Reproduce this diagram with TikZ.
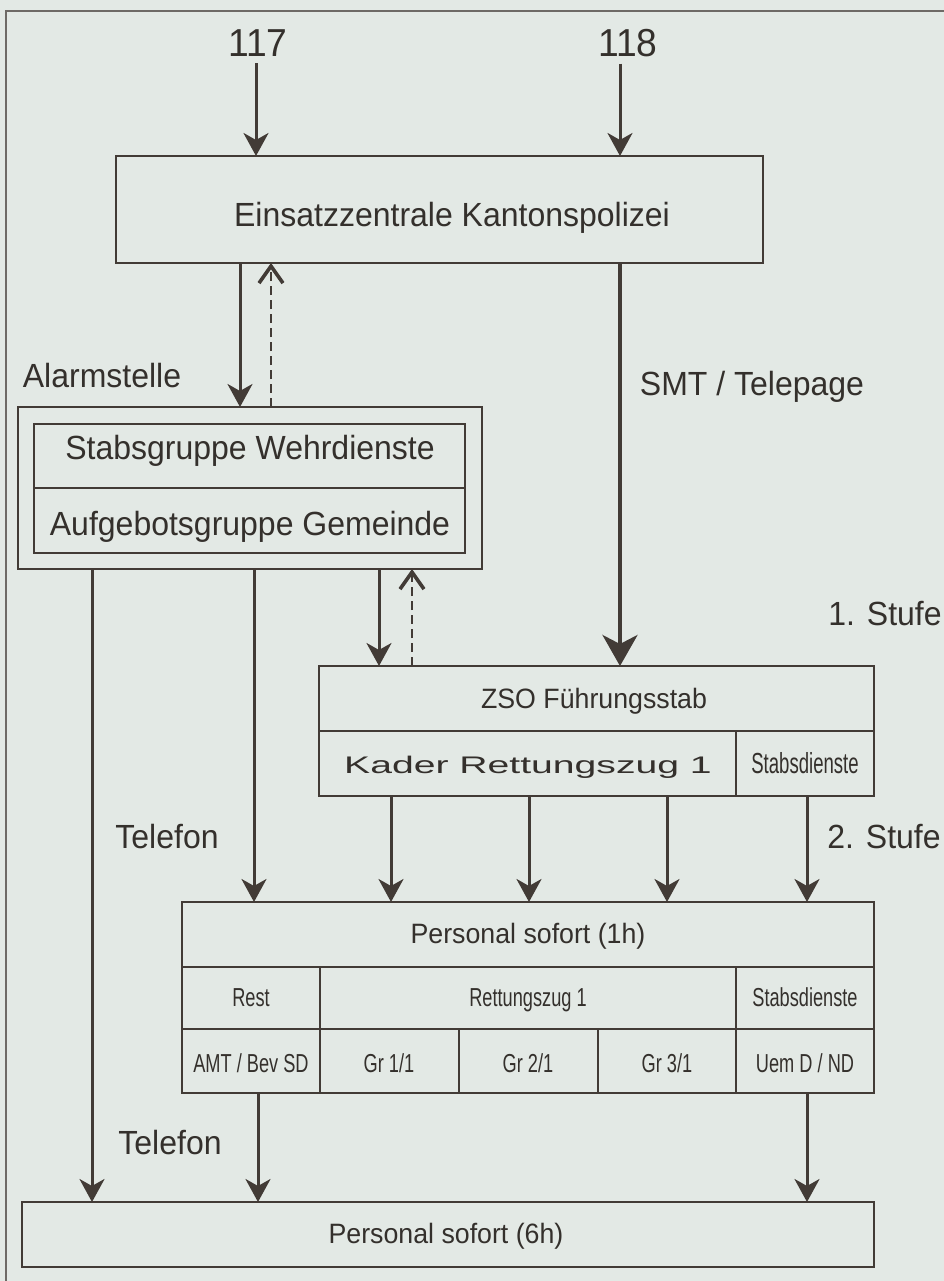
\documentclass[tikz,border=0pt]{standalone}
\usepackage{fontspec}
\setmainfont{Liberation Sans}
\newfontfamily\mainA{Liberation Sans}[FakeStretch=0.955]
\newfontfamily\condA{Liberation Sans}[FakeStretch=0.70]
\newfontfamily\condB{Liberation Sans}[FakeStretch=0.64]
\newfontfamily\wideA{Liberation Sans}[FakeStretch=1.63]
\usetikzlibrary{arrows.meta}
\definecolor{bgcol}{HTML}{E3E9E5}
\definecolor{linecol}{HTML}{423B36}
\definecolor{txtcol}{HTML}{34302C}
\definecolor{framecol}{HTML}{6E6A66}
\begin{document}
\begin{tikzpicture}[x=1pt,y=-1pt,
  box/.style={draw=linecol, line width=2.4pt, inner sep=0pt, outer sep=0pt, anchor=north west},
  big/.style={text=txtcol, inner sep=0pt, anchor=base, font=\mainA\fontsize{33.5}{37}\selectfont},
  num/.style={big, font=\mainA\fontsize{39}{43}\selectfont},
  mid/.style={big, font=\mainA\fontsize{28}{32}\selectfont},
  cell/.style={big, font=\condA\fontsize{26}{30}\selectfont},
  arr/.style={draw=linecol, line width=3pt, -{Stealth[length=23pt,width=25pt,inset=7pt]}},
  bigarr/.style={draw=linecol, line width=4pt, -{Stealth[length=31pt,width=35pt,inset=9pt]}},
  dasharr/.style={draw=linecol, line width=2.8pt, dash pattern=on 9pt off 5pt, -{Straight Barb[length=17pt,width=24pt,line width=3.6pt]}},
]
\fill[bgcol] (0,0) rectangle (944,1281);
\useasboundingbox (0,0) rectangle (944,1281);
\draw[framecol, line width=1.4pt] (944,11) -- (6,11) -- (6,1281);

% x positions of connectors
\foreach \xx in {92,240,254,256,258,271,379,391,412,529,620,667,807}
  \coordinate (c\xx) at (\xx,0);

% top
\node[num] (n117) at (258,57) {117};
\node[num] (n118) at (628,57) {118};
\node[box, minimum width=647pt, minimum height=107pt] (ez) at (116,156) {};
\node[big] (ezt) at (452,226) {Einsatzzentrale Kantonspolizei};

% Alarmstelle
\node[big] (alt) at (102,387) {Alarmstelle};
\node[box, minimum width=464pt, minimum height=162pt] (al) at (18,407) {};
\node[box, minimum width=431pt, minimum height=64pt] (sg) at (34,424) {};
\node[box, minimum width=431pt, minimum height=65pt] (ag) at (34,488) {};
\node[big] (sgt) at (250,459) {Stabsgruppe Wehrdienste};
\node[big] (agt) at (250,535) {Aufgebotsgruppe Gemeinde};

\node[big] (smt) at (752,395) {SMT / Telepage};
\node[big] (st1) at (885,625) {1. Stufe};
\node[big] (st2) at (884,848) {2. Stufe};
\node[big] (tel1) at (167,848) {Telefon};
\node[big] (tel2) at (170,1154) {Telefon};

% ZSO
\node[box, minimum width=555pt, minimum height=65pt] (zso) at (319,666) {};
\node[box, minimum width=417pt, minimum height=65pt] (kad) at (319,731) {};
\node[box, minimum width=138pt, minimum height=65pt] (sd1) at (736,731) {};
\node[mid] (zsot) at (594,708) {ZSO Führungsstab};
\node[big, font=\wideA\fontsize{24}{28}\selectfont] (kadt) at (528,773) {Kader Rettungszug 1};
\node[big, font=\condB\fontsize{29}{33}\selectfont] (sd1t) at (805,773) {Stabsdienste};

% Personal sofort (1h) table
\node[box, minimum width=692pt, minimum height=65pt] (p1h) at (182,902) {};
\node[mid] (p1ht) at (528,943) {Personal sofort (1h)};
\node[box, minimum width=138pt, minimum height=62pt] (rest) at (182,967) {};
\node[box, minimum width=416pt, minimum height=62pt] (rz) at (320,967) {};
\node[box, minimum width=138pt, minimum height=62pt] (sd2) at (736,967) {};
\node[box, minimum width=138pt, minimum height=64pt] (amt) at (182,1029) {};
\node[box, minimum width=139pt, minimum height=64pt] (g11) at (320,1029) {};
\node[box, minimum width=139pt, minimum height=64pt] (g21) at (459,1029) {};
\node[box, minimum width=138pt, minimum height=64pt] (g31) at (598,1029) {};
\node[box, minimum width=138pt, minimum height=64pt] (uem) at (736,1029) {};
\node[cell] (restt) at (251,1006) {Rest};
\node[cell] (rzt) at (528,1006) {Rettungszug 1};
\node[cell] (sd2t) at (805,1006) {Stabsdienste};
\node[cell] (amtt) at (251,1072) {AMT / Bev SD};
\node[cell] (g11t) at (389,1072) {Gr 1/1};
\node[cell] (g21t) at (528,1072) {Gr 2/1};
\node[cell] (g31t) at (667,1072) {Gr 3/1};
\node[cell] (uemt) at (805,1072) {Uem D / ND};

% Personal sofort (6h)
\node[box, minimum width=852pt, minimum height=65pt] (p6h) at (22,1202) {};
\node[mid] (p6ht) at (446,1243) {Personal sofort (6h)};

% connectors
\draw[arr] ([yshift=-6pt]n117.south -| c256) -- (ez.north -| c256);
\draw[arr] ([yshift=-6pt]n118.south -| c620) -- (ez.north -| c620);
\draw[arr] (ez.south -| c240) -- (al.north -| c240);
\draw[dasharr] (al.north -| c271) -- (ez.south -| c271);
\draw[bigarr] (ez.south -| c620) -- (zso.north -| c620);
\draw[arr] (al.south -| c379) -- (zso.north -| c379);
\draw[dasharr] (zso.north -| c412) -- (al.south -| c412);
\draw[arr] (al.south -| c92) -- (p6h.north -| c92);
\draw[arr] (al.south -| c254) -- (p1h.north -| c254);
\draw[arr] (kad.south -| c391) -- (p1h.north -| c391);
\draw[arr] (kad.south -| c529) -- (p1h.north -| c529);
\draw[arr] (kad.south -| c667) -- (p1h.north -| c667);
\draw[arr] (sd1.south -| c807) -- (p1h.north -| c807);
\draw[arr] (amt.south -| c258) -- (p6h.north -| c258);
\draw[arr] (uem.south -| c807) -- (p6h.north -| c807);
\end{tikzpicture}
\end{document}
